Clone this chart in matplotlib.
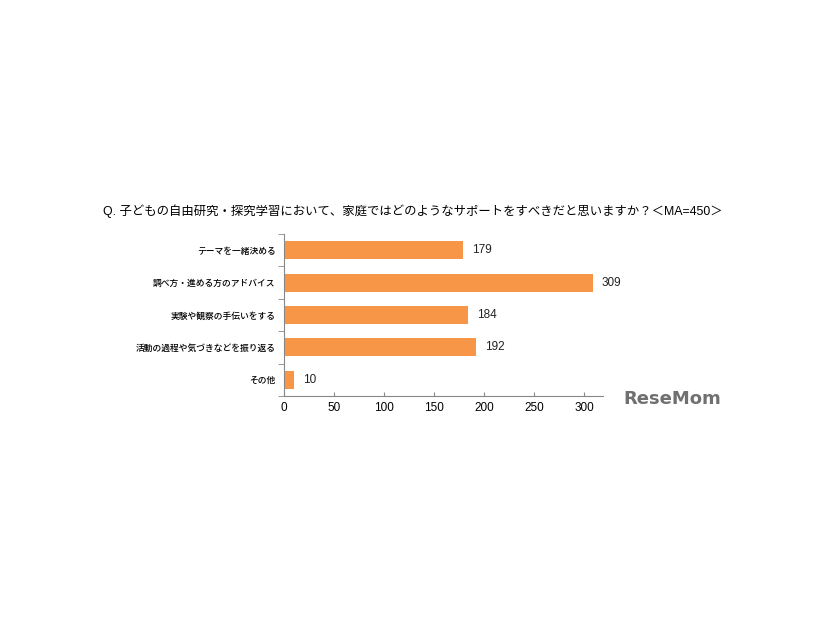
import matplotlib
matplotlib.use("Agg")
import matplotlib.pyplot as plt

plt.rcParams['font.family'] = ['Liberation Sans', 'Noto Sans CJK JP', 'DejaVu Sans']

categories = ['テーマを一緒決める', '調べ方・進める方のアドバイス', '実験や観察の手伝いをする',
              '活動の過程や気づきなどを振り返る', 'その他']
values = [179, 309, 184, 192, 10]
xticks = [0, 50, 100, 150, 200, 250, 300]
title = 'Q. 子どもの自由研究・探究学習において、家庭ではどのようなサポートをすべきだと思いますか？＜MA=450＞'

fig = plt.figure(figsize=(8.26, 6.2), dpi=100)
ax = fig.add_axes([284/826, 1-396/620, 319/826, 162/620])

ypos = list(range(len(categories)))
ax.barh(ypos, values, height=0.55, color='#f79646')
for y, v in zip(ypos, values):
    ax.text(v + 9, y, str(v), va='center', ha='left', fontsize=8.5, color='#222222')

ax.set_ylim(len(categories) - 0.5, -0.5)
ax.set_xlim(0, 319)
ax.set_yticks(ypos)
ax.set_yticklabels(categories, fontsize=6.3, fontweight='medium')
ax.tick_params(axis='y', length=0, pad=6)
ax.set_yticks([i - 0.5 for i in range(len(categories) + 1)], minor=True)
ax.tick_params(axis='y', which='minor', length=4, direction='out', color='#888888')
ax.set_xticks(xticks)
ax.tick_params(axis='x', length=3, direction='in', color='#888888', labelsize=8.5, pad=4)
for s in ['top', 'right']:
    ax.spines[s].set_visible(False)
for s in ['left', 'bottom']:
    ax.spines[s].set_color('#888888')
    ax.spines[s].set_linewidth(0.8)

fig.text(0.5, 1-211/620, title, ha='center', va='center', fontsize=8.9)
fig.text(672/826, 1-399/620, 'ReseMom', ha='center', va='center', fontsize=13,
         fontweight='bold', color='#707070', family=['DejaVu Sans'])

fig.savefig('out.png', dpi=100)
